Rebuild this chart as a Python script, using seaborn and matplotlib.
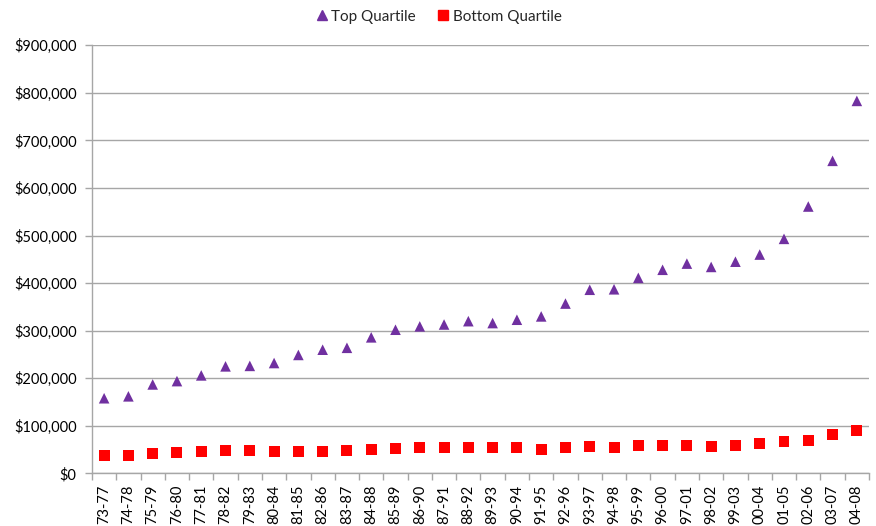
import matplotlib
matplotlib.use("Agg")
import matplotlib.pyplot as plt
import matplotlib.ticker as mticker
from matplotlib.lines import Line2D
import seaborn as sns
import pandas as pd
import numpy as np

periods = ["73-77", "74-78", "75-79", "76-80", "77-81", "78-82", "79-83", "80-84",
           "81-85", "82-86", "83-87", "84-88", "85-89", "86-90", "87-91", "88-92",
           "89-93", "90-94", "91-95", "92-96", "93-97", "94-98", "95-99", "96-00",
           "97-01", "98-02", "99-03", "00-04", "01-05", "02-06", "03-07", "04-08"]

top_quartile = [158000, 162000, 187000, 194000, 206000, 225000, 226000, 232000,
                249000, 260000, 264000, 286000, 302000, 309000, 313000, 320000,
                316000, 323000, 330000, 357000, 386000, 387000, 411000, 428000,
                441000, 434000, 445000, 460000, 493000, 561000, 657000, 783000]

bottom_quartile = [37000, 37000, 41000, 43000, 47000, 49000, 49000, 46000,
                   46000, 47000, 49000, 51000, 53000, 55000, 55000, 55000,
                   54000, 53500, 51000, 53500, 56000, 55000, 58000, 59500,
                   58000, 57500, 59500, 62000, 68000, 70000, 82000, 91000]

purple = "#7030A0"
red = "#FF0000"
grid_gray = "#A6A6A6"

sns.set_theme(style="white")
plt.rcParams["font.family"] = ["Lato", "DejaVu Sans"]

df = pd.DataFrame({"period": periods, "top": top_quartile, "bottom": bottom_quartile})
df["pos"] = np.arange(len(periods))

fig = plt.figure(figsize=(8.76, 5.26), dpi=100)
ax = fig.add_axes([0.105, 0.100, 0.887, 0.814])

sns.scatterplot(data=df, x="pos", y="top", marker="^", s=58, color=purple,
                edgecolor="none", ax=ax, zorder=3)
sns.scatterplot(data=df, x="pos", y="bottom", marker="s", s=62, color=red,
                edgecolor="none", ax=ax, zorder=3)

ax.set_xlim(-0.5, len(periods) - 0.5)
ax.set_ylim(0, 900000)
ax.yaxis.set_major_locator(mticker.MultipleLocator(100000))
ax.yaxis.set_major_formatter(mticker.FuncFormatter(lambda v, p: f"${v:,.0f}"))
ax.grid(axis="y", color=grid_gray, linewidth=1.0)
ax.set_axisbelow(True)

ax.set_xticks(df["pos"])
ax.set_xticklabels(periods, rotation=90)
ax.tick_params(axis="x", which="major", length=0, pad=8, labelsize=10.5, colors="#000000")
ax.set_xticks(np.arange(-0.5, len(periods)), minor=True)
ax.tick_params(axis="x", which="minor", length=5, width=1, color=grid_gray, bottom=True)
ax.tick_params(axis="y", length=5, width=1, color=grid_gray, left=True, labelsize=10.5, pad=6)
for lbl in ax.get_yticklabels():
    lbl.set_color("#000000")

for side in ("top", "right"):
    ax.spines[side].set_visible(False)
for side in ("left", "bottom"):
    ax.spines[side].set_color(grid_gray)
    ax.spines[side].set_linewidth(1.0)

ax.set_xlabel("")
ax.set_ylabel("")

handles = [
    Line2D([], [], marker="^", linestyle="none", color=purple, markersize=7.5, label="Top Quartile"),
    Line2D([], [], marker="s", linestyle="none", color=red, markersize=7, label="Bottom Quartile"),
]
fig.legend(handles=handles, loc="center", bbox_to_anchor=(0.5, 0.968), ncol=2,
           frameon=False, fontsize=11, handletextpad=0.1, columnspacing=1.3,
           handlelength=1.0)

fig.savefig("out.png", dpi=100)
